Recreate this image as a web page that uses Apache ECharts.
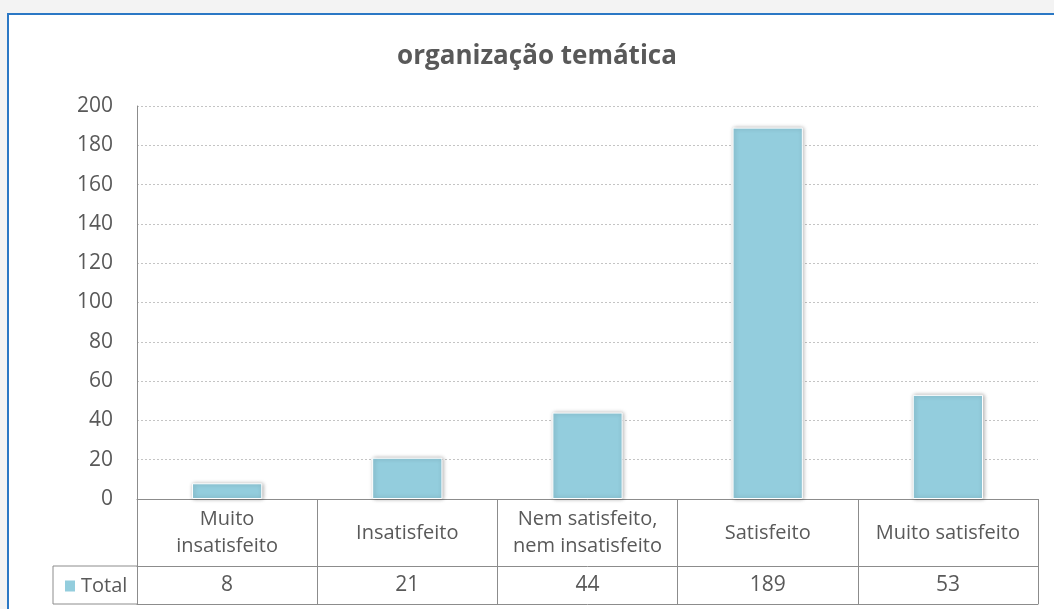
<!DOCTYPE html>
<html>
<head>
<meta charset="utf-8">
<script src="https://cdn.jsdelivr.net/npm/echarts@6/dist/echarts.min.js"></script>
<style>
  html, body { margin: 0; padding: 0; background: #f3f3f3; }
  #frame {
    position: absolute; left: 7px; top: 13px; width: 1100px; height: 700px;
    background: #ffffff; border: 2px solid #2b78c5; box-sizing: border-box;
  }
  #chart { position: absolute; left: 0; top: 0; width: 1054px; height: 609px; }
</style>
</head>
<body>
<div id="frame"></div>
<div id="chart"></div>
<script>
const categories = ['Muito\ninsatisfeito', 'Insatisfeito', 'Nem satisfeito,\nnem insatisfeito', 'Satisfeito', 'Muito satisfeito']
const totals = [8, 21, 44, 189, 53]
const yTicks = [0, 20, 40, 60, 80, 100, 120, 140, 160, 180, 200]

const textColor = '#595959'
const lineColor = '#8c8c8c'
const font = '"Open Sans", "Noto Sans", sans-serif'

const chart = echarts.init(document.getElementById('chart'))
chart.setOption({
  textStyle: { fontFamily: font },
  title: {
    text: 'organização temática',
    left: 532,
    top: 39,
    textAlign: 'center',
    textStyle: { fontSize: 26, fontWeight: 'bold', color: textColor, fontFamily: font }
  },
  legend: {
    data: ['Total'],
    left: 58,
    top: 571,
    icon: 'rect',
    itemWidth: 12,
    itemHeight: 13,
    itemGap: 4,
    textStyle: { fontSize: 20, color: textColor, fontFamily: font }
  },
  grid: { left: 137, right: 16, top: 106, bottom: 110 },
  xAxis: [{
    type: 'category',
    data: categories,
    position: 'bottom',
    axisLine: { show: true, lineStyle: { color: lineColor, width: 1 } },
    axisTick: { show: true, length: 105, lineStyle: { color: lineColor } },
    axisLabel: {
      interval: 0, margin: 34, verticalAlign: 'middle',
      fontSize: 20, lineHeight: 27, color: textColor, fontFamily: font
    }
  }, {
    type: 'category',
    data: categories,
    position: 'bottom',
    offset: 67,
    axisLine: { show: true, lineStyle: { color: lineColor, width: 1 } },
    axisTick: { show: false },
    axisLabel: {
      interval: 0, margin: 19, verticalAlign: 'middle',
      fontSize: 21, color: textColor, fontFamily: font,
      formatter: (v, i) => String(totals[i])
    }
  }, {
    type: 'category',
    data: categories,
    position: 'bottom',
    offset: 105,
    axisLine: { show: true, lineStyle: { color: lineColor, width: 1 } },
    axisTick: { show: false },
    axisLabel: { show: false }
  }],
  yAxis: {
    type: 'value',
    min: yTicks[0],
    max: yTicks[yTicks.length - 1],
    interval: 20,
    axisLine: { show: true, lineStyle: { color: lineColor, width: 1 } },
    axisTick: { show: false },
    axisLabel: { margin: 24, fontSize: 21, color: textColor, fontFamily: font },
    splitLine: { lineStyle: { color: '#c4c4c4', type: [2, 2] } }
  },
  series: [{
    name: 'Total',
    type: 'bar',
    data: totals,
    barWidth: '39%',
    itemStyle: {
      color: '#93cddd',
      borderColor: '#ffffff',
      borderWidth: 1,
      shadowColor: 'rgba(0,0,0,0.3)',
      shadowBlur: 4,
      shadowOffsetX: 1
    }
  }],
  graphic: [{
    type: 'polyline',
    shape: { points: [[137, 566], [53, 566], [53, 604], [137, 604]] },
    style: { stroke: lineColor, lineWidth: 1, fill: null }
  }]
})
</script>
</body>
</html>
